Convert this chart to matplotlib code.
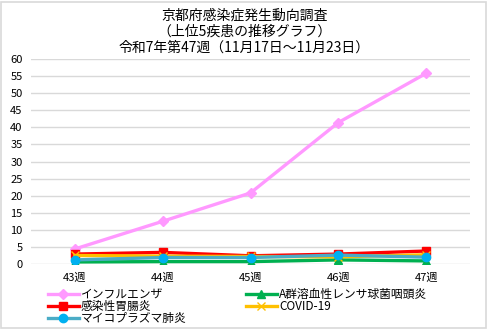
import matplotlib.pyplot as plt
from matplotlib.patches import Rectangle

plt.rcParams['font.family'] = ['Noto Sans CJK JP', 'DejaVu Sans']

weeks = ['43週', '44週', '45週', '46週', '47週']

influenza = [4.4, 12.5, 20.8, 41.4, 55.8]
gastro = [2.9, 3.4, 2.4, 2.9, 3.8]
mycoplasma = [1.2, 1.9, 1.9, 2.6, 2.0]
strep_a = [0.6, 0.7, 0.7, 1.2, 0.9]
covid = [2.5, 2.3, 2.2, 2.1, 2.7]

fig = plt.figure(figsize=(4.89, 3.30), dpi=100)
ax = fig.add_axes([31/489, 1 - 264/330, (470-31)/489, (264-59)/330])

x = range(len(weeks))
lw = 2.4
l1, = ax.plot(x, influenza, color='#FF99FF', lw=lw, marker='D', ms=5, label='インフルエンザ')
l2, = ax.plot(x, gastro, color='#FF0000', lw=lw, marker='s', ms=6, label='感染性胃腸炎')
l4, = ax.plot(x, strep_a, color='#00B050', lw=lw, marker='^', ms=6, label='A群溶血性レンサ球菌咽頭炎')
l5, = ax.plot(x, covid, color='#FFC000', lw=lw, marker='x', ms=6, mew=1, label='COVID-19')
l3, = ax.plot(x, mycoplasma, color='#4BACC6', lw=lw, marker='o', ms=6,
              mfc='#00B0F0', mec='#00B0F0', label='マイコプラズマ肺炎')

ax.set_xlim(-0.5, 4.5)
ax.set_ylim(0, 60)
ax.set_yticks(range(0, 61, 5))
ax.set_xticks(list(x))
ax.set_xticklabels(weeks)
ax.tick_params(length=0, labelsize=8, pad=6)
ax.grid(axis='y', color='#D9D9D9', lw=1)
ax.set_axisbelow(True)
for s in ax.spines.values():
    s.set_visible(False)

fig.text(0.5, 1 - 16/330, '京都府感染症発生動向調査', ha='center', va='center', fontsize=10)
fig.text(0.5, 1 - 32/330, '（上位5疾患の推移グラフ）', ha='center', va='center', fontsize=10)
fig.text(0.5, 1 - 48/330, '令和7年第47週（11月17日～11月23日）', ha='center', va='center', fontsize=10)

fig.legend(handles=[l1, l2, l3, l4, l5], ncol=2, loc='upper left',
           bbox_to_anchor=(48/489, 1 - 288/330), frameon=False, fontsize=8.5,
           handlelength=2.6, handletextpad=0.2, labelspacing=-0.1,
           columnspacing=5.0, borderpad=0, borderaxespad=0)

fig.patches.append(Rectangle((1/489, 2/330), 485/489, 326/330, transform=fig.transFigure,
                             fill=False, ec='#D9D9D9', lw=1.2))

fig.savefig('out.png', dpi=100)
